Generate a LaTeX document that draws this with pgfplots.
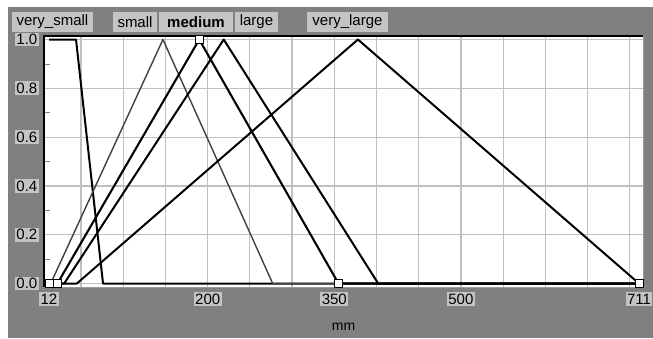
\documentclass[border=0pt]{standalone}
\usepackage{pgfplots}
\pgfplotsset{compat=1.18}
\usepackage{fontspec}
\setmainfont{Liberation Sans}
\definecolor{bg}{RGB}{128,128,128}
\definecolor{lbl}{RGB}{196,196,196}
\definecolor{gridc}{RGB}{192,192,192}
\begin{document}
\fontsize{15pt}{18pt}\selectfont
\begin{tikzpicture}[x=1pt,y=1pt]
\fill[white] (0,0) rectangle (653,-338);
\fill[bg] (8,-7) rectangle (653,-338);
\begin{axis}[at={(44pt,-36pt)}, anchor=north west, scale only axis,
  width=599pt, height=251pt,
  xmin=6.076, xmax=715.75, ymin=-0.01434, ymax=1.01434,
  clip=false,
  axis background/.style={fill=white},
  axis line style={draw=none},
  xtick={12,200,350,500,711}, xticklabels={12,200,350,500,711},
  xmajorgrids=false,
  extra x ticks={50,100,...,700}, extra x tick labels={},
  extra x tick style={grid=major, tick style={draw=none}, xticklabel style={fill=none, draw=none}},
  ytick={0,0.2,0.4,0.6,0.8,1.0}, yticklabels={0.0,0.2,0.4,0.6,0.8,1.0},
  ymajorgrids=true,
  minor ytick={0.1,0.3,0.5,0.7,0.9},
  ytick pos=left, xtick pos=bottom,
  tick align=inside,
  major tick length=0pt, minor tick length=6pt,
  minor tick style={gray, line width=0.8pt},
  major grid style={gridc, line width=1.2pt},
  tick label style={fill=lbl, inner sep=1.5pt, font=\fontsize{15pt}{18pt}\selectfont},
  yticklabel style={anchor=east, xshift=-5pt},
  xticklabel style={anchor=north, yshift=-5pt},
  xlabel={mm},
  xlabel style={at={(axis description cs:0.5,0)}, anchor=center, yshift=-40pt, font=\fontsize{14pt}{17pt}\selectfont},
]
\addplot[black, line width=2pt, line join=round] coordinates {(12,1)(44,1)(76,0)(711,0)};
\addplot[black!75, line width=1.4pt, line join=round] coordinates {(12,0)(14,0)(147,1)(277,0)(711,0)};
\addplot[black, line width=2.1pt, line join=round] coordinates {(12,0)(22,0)(190,1)(355,0)(711,0)};
\addplot[black, line width=2pt, line join=round] coordinates {(12,0)(30,0)(219,1)(402,0)(711,0)};
\addplot[black, line width=2pt, line join=round] coordinates {(12,0)(45,0)(378,1)(711,0)};
\draw[gridc!80!black, line width=1pt] (rel axis cs:0,0) -- (rel axis cs:1,0) -- (rel axis cs:1,1);
\draw[black, line width=2.2pt] (rel axis cs:0,0) -- (rel axis cs:0,1) -- (rel axis cs:1,1);
\addplot[only marks, mark=square*, mark size=4pt, mark options={fill=white, draw=black, line width=1pt}] coordinates {(12,0)(22,0)(190,1)(355,0)(711,0)};
\end{axis}
\node[fill=lbl, minimum width=81pt, minimum height=20pt, inner sep=0pt] at (52.5,-22) {very\_small};
\node[fill=lbl, minimum width=44pt, minimum height=20pt, inner sep=0pt] at (135,-22) {small};
\node[fill=lbl, minimum width=74pt, minimum height=20pt, inner sep=0pt] at (196,-22) {\bfseries medium};
\node[fill=lbl, minimum width=43pt, minimum height=20pt, inner sep=0pt] at (256.5,-22) {large};
\node[fill=lbl, minimum width=81pt, minimum height=20pt, inner sep=0pt] at (347.5,-22) {very\_large};
\end{tikzpicture}
\end{document}
